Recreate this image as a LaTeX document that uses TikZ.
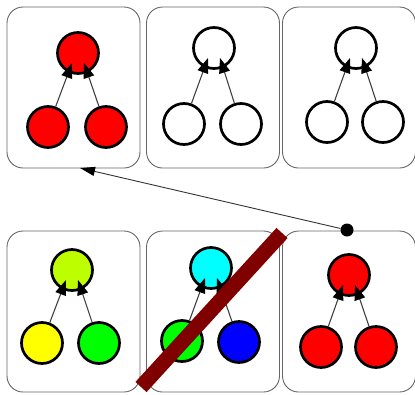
\documentclass[tikz,border=0pt]{standalone}
\usetikzlibrary{arrows.meta,calc}
\definecolor{lime}{RGB}{190,255,0}
\definecolor{aqua}{RGB}{0,255,255}
\definecolor{pureblue}{RGB}{0,0,255}
\definecolor{puregreen}{RGB}{0,255,0}
\definecolor{pureyellow}{RGB}{255,255,0}
\definecolor{purered}{RGB}{255,0,0}
\definecolor{barred}{RGB}{128,0,0}
\begin{document}
\begin{tikzpicture}[x=1pt,y=-1pt,
  panel/.style={draw=black!60,line width=0.9pt,rounded corners=16pt,
    minimum width=133pt,minimum height=161pt,inner sep=0pt},
  ball/.style={circle,draw=black,line width=2.7pt,minimum size=41pt,inner sep=0pt},
  edgearr/.style={draw=black!75,line width=1.1pt,
    -{Triangle[length=15pt,width=11pt,fill=black,color=black]}},
  linkarr/.style={draw=black!80,line width=0.9pt,
    -{Triangle[length=15pt,width=9pt,fill=black,color=black]}},
  dot/.style={circle,fill=black,minimum size=13pt,inner sep=0pt}]
\useasboundingbox (0,0) rectangle (415,394);

% panels, top row
\node[panel] (P1) at (73.5,87.5) {};
\node[panel] (P2) at (213,87.5) {};
\node[panel] (P3) at (349,87.5) {};
% panels, bottom row
\node[panel] (Q1) at (73.5,311.5) {};
\node[panel] (Q2) at (213,311.5) {};
\node[panel] (Q3) at (349,311.5) {};

% top row trees
\node[ball,fill=purered] (At) at (78,53) {};
\node[ball,fill=purered] (Al) at (48,127) {};
\node[ball,fill=purered] (Ar) at (106,127) {};
\node[ball,fill=white] (Bt) at (214,48) {};
\node[ball,fill=white] (Bl) at (184,124) {};
\node[ball,fill=white] (Br) at (241,124) {};
\node[ball,fill=white] (Ct) at (356,48) {};
\node[ball,fill=white] (Cl) at (327,122) {};
\node[ball,fill=white] (Cr) at (383,122) {};
% bottom row trees
\node[ball,fill=lime] (Dt) at (72,270) {};
\node[ball,fill=pureyellow] (Dl) at (42,343) {};
\node[ball,fill=puregreen] (Dr) at (99,343) {};
\node[ball,fill=aqua] (Et) at (211,268) {};
\node[ball,fill=puregreen] (El) at (182,341) {};
\node[ball,fill=pureblue] (Er) at (239,342) {};
\node[ball,fill=purered] (Ft) at (349,275) {};
\node[ball,fill=purered] (Fl) at (321,347) {};
\node[ball,fill=purered] (Fr) at (376,347) {};

% edges: children point into the parent's lower half
\foreach \n in {A,B,C,D,E,F}{
  \coordinate (\n a) at ($(\n t)+(-6,10)$);
  \coordinate (\n b) at ($(\n t)+(6,10)$);
  \draw[edgearr] (\n l) -- (\n a);
  \draw[edgearr] (\n r) -- (\n b);
}

% link from the last panel back to the first
\node[dot] (S) at (347,230) {};
\coordinate (T) at (80,168);
\draw[linkarr] (S) -- (T);

% strike-through bar over the middle bottom panel
\coordinate (X1) at (141,387);
\coordinate (X2) at (282,233);
\draw[barred,line width=15pt] (X1) -- (X2);
\end{tikzpicture}
\end{document}
